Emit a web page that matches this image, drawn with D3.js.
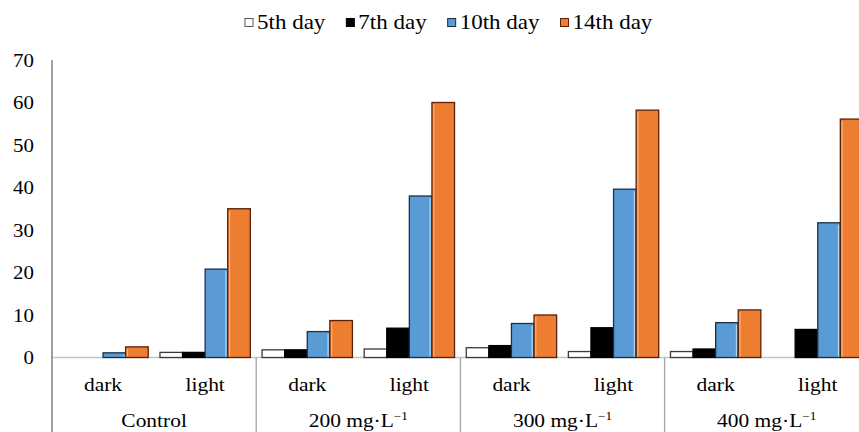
<!DOCTYPE html>
<html>
<head>
<meta charset="utf-8">
<script src="https://cdn.jsdelivr.net/npm/d3@7"></script>
<style>
  body { margin: 0; background: #fff; }
</style>
</head>
<body>
<svg id="chart" width="859" height="432"></svg>
<script>
/* data */
var groups = ["Control", "200", "300", "400"];
var conditions = ["dark", "light"];
var seriesNames = ["5th day", "7th day", "10th day", "14th day"];
var yTicks = [0, 10, 20, 30, 40, 50, 60, 70];

// one value per (group, condition): Control dark, Control light, 200 dark, ...
var day5  = [0, 1.2, 1.8, 2.0, 2.3, 1.4, 1.4, 0];
var day7  = [0, 1.2, 1.8, 6.9, 2.8, 7.0, 2.0, 6.6];
var day10 = [1.1, 20.8, 6.1, 38.0, 8.0, 39.6, 8.2, 31.7];
var day14 = [2.5, 35.0, 8.7, 60.0, 10.0, 58.2, 11.2, 56.1];

var seriesValues = [day5, day7, day10, day14];
var fills   = ["#ffffff", "#000000", "#5b9bd5", "#ed7d31"];
var strokes = ["#3a3a3a", "#000000", "#1c2f45", "#5a2106"];

var svg = d3.select("svg#chart")
  .attr("font-family", "'Liberation Serif', 'Times New Roman', serif");

/* scales */
var cats = [];
groups.forEach(function (g) {
  conditions.forEach(function (c) { cats.push(g + "|" + c); });
});

var x = d3.scaleBand()
  .domain(cats)
  .range([52, 52 + 8 * 102.1]);

var xBar = d3.scaleBand()
  .domain(seriesNames)
  .range([0, x.bandwidth()])
  .paddingInner(0)
  .paddingOuter(0.26);

var y = d3.scaleLinear()
  .domain([0, 70])
  .range([357.5, 60]);

var groupWidth = x.bandwidth() * conditions.length;

/* baseline */
svg.append("line")
  .attr("x1", x.range()[0]).attr("x2", 859)
  .attr("y1", y(0)).attr("y2", y(0))
  .attr("stroke", "#c4c4c4")
  .attr("stroke-width", 1.5);

/* bars */
seriesNames.forEach(function (name, si) {
  var rows = seriesValues[si].map(function (v, i) { return { cat: cats[i], v: v }; })
    .filter(function (d) { return d.v > 0; });

  var g = svg.append("g").attr("class", "series-" + si);

  g.selectAll("rect.bar")
    .data(rows)
    .enter()
    .append("rect")
    .attr("class", "bar")
    .attr("x", function (d) { return x(d.cat) + xBar(name); })
    .attr("y", function (d) { return y(d.v); })
    .attr("width", xBar.bandwidth())
    .attr("height", function (d) { return y(0) - y(d.v); })
    .attr("fill", fills[si])
    .attr("stroke", strokes[si])
    .attr("stroke-width", 1.3);

  // little bevel highlights like the excel bars
  if (si === 2 || si === 3) {
    g.selectAll("line.hl")
      .data(rows)
      .enter()
      .append("line")
      .attr("class", "hl")
      .attr("x1", function (d) {
        return si === 2 ? x(d.cat) + xBar(name) + xBar.bandwidth() - 1.8 : x(d.cat) + xBar(name) + 1.8;
      })
      .attr("x2", function (d) {
        return si === 2 ? x(d.cat) + xBar(name) + xBar.bandwidth() - 1.8 : x(d.cat) + xBar(name) + 1.8;
      })
      .attr("y1", function (d) { return y(d.v) + 2; })
      .attr("y2", y(0) - 1)
      .attr("stroke", si === 2 ? "#a8d8f6" : "#f7b47c")
      .attr("stroke-width", 1.2);
  }
});

/* y axis */
svg.append("line")
  .attr("x1", 52).attr("x2", 52)
  .attr("y1", y(70)).attr("y2", 432)
  .attr("stroke", "#6e6e6e")
  .attr("stroke-width", 1.3);

svg.selectAll("text.ytick")
  .data(yTicks)
  .enter()
  .append("text")
  .attr("class", "ytick")
  .attr("transform", function (d) { return "translate(34," + y(d) + ") scale(1.1,1)"; })
  .attr("dy", "0.35em")
  .attr("text-anchor", "end")
  .style("font-size", "19px")
  .text(function (d) { return d; });

/* category axis */
svg.selectAll("line.divider")
  .data(groups.slice(1))
  .enter()
  .append("line")
  .attr("class", "divider")
  .attr("x1", function (d) { return x(d + "|dark"); })
  .attr("x2", function (d) { return x(d + "|dark"); })
  .attr("y1", y(0))
  .attr("y2", 432)
  .attr("stroke", "#a6a6a6")
  .attr("stroke-width", 1.3);

svg.selectAll("text.cond")
  .data(cats)
  .enter()
  .append("text")
  .attr("class", "cond")
  .attr("transform", function (d) { return "translate(" + (x(d) + x.bandwidth() / 2) + ",391) scale(1.1,1)"; })
  .attr("text-anchor", "middle")
  .style("font-size", "19.5px")
  .text(function (d) { return d.split("|")[1]; });

var glab = svg.selectAll("text.group")
  .data(groups)
  .enter()
  .append("text")
  .attr("class", "group")
  .attr("transform", function (d) { return "translate(" + (x(d + "|dark") + groupWidth / 2) + ",427) scale(1.1,1)"; })
  .attr("text-anchor", "middle")
  .style("font-size", "19.5px");

glab.each(function (d) {
  var t = d3.select(this);
  if (d === "Control") { t.text(d); return; }
  t.append("tspan").text(d + " mg\u00b7L");
  t.append("tspan").attr("dy", -7).style("font-size", "12px").text("\u22121");
});

/* legend */
var legend = svg.append("g").attr("class", "legend");
var lx = 245;
seriesNames.forEach(function (name, si) {
  legend.append("rect")
    .attr("x", lx).attr("y", 18.5)
    .attr("width", 8).attr("height", 8)
    .attr("fill", fills[si])
    .attr("stroke", si === 0 ? "#555" : strokes[si])
    .attr("stroke-width", 1);
  var t = legend.append("text")
    .attr("transform", "translate(" + (lx + 12) + ",29) scale(1.15,1)")
    .style("font-size", "20px")
    .text(name);
  lx += 12 + t.node().getComputedTextLength() * 1.15 + 21;
});
</script>
</body>
</html>
